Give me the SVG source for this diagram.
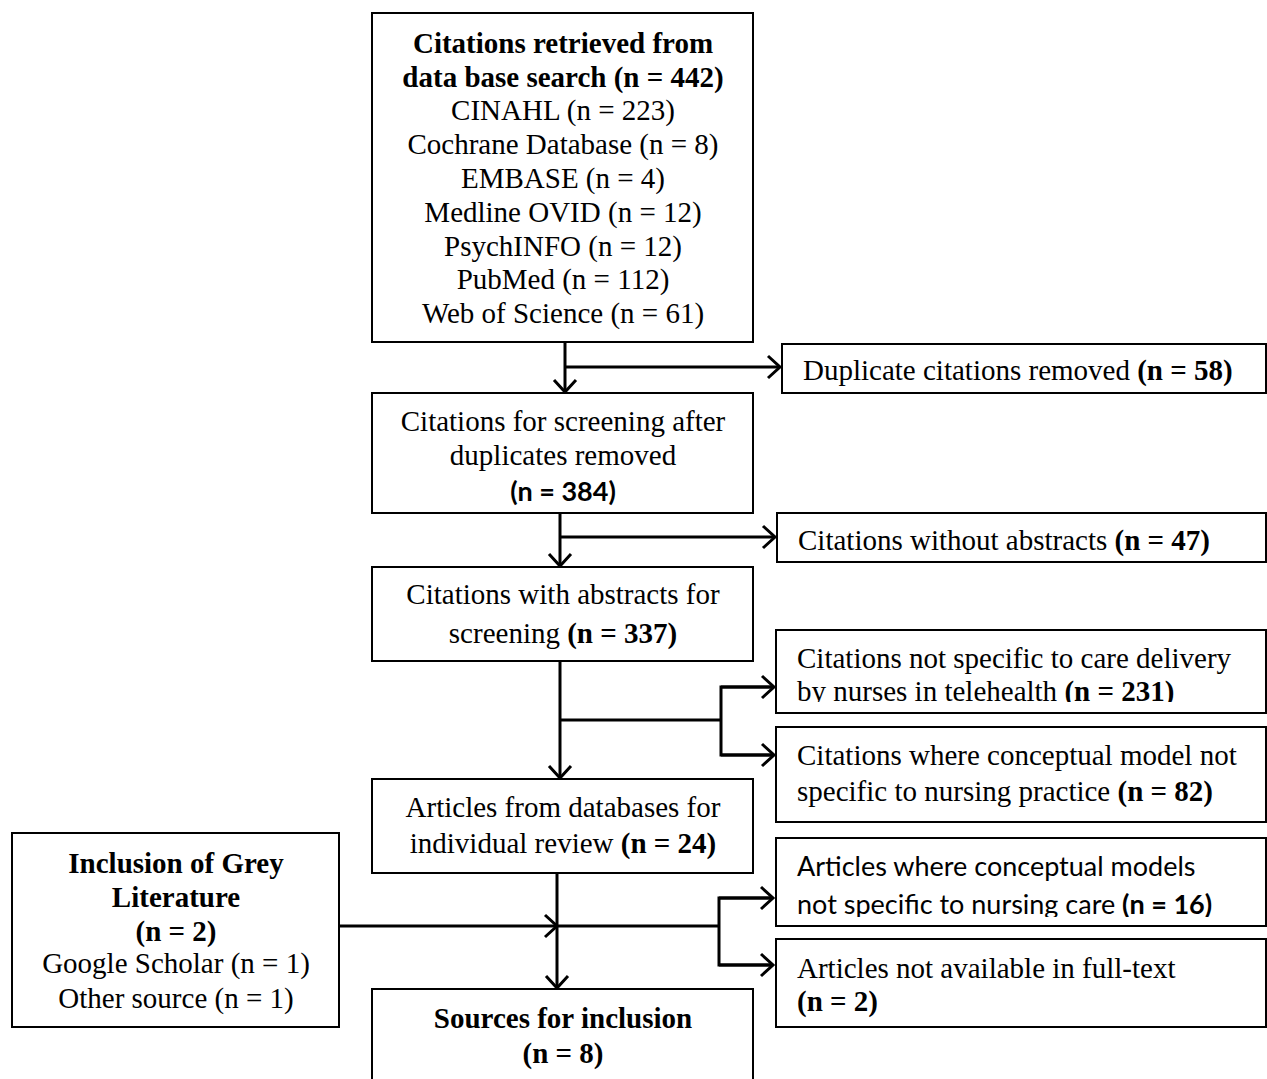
<svg xmlns="http://www.w3.org/2000/svg" width="1267" height="1079" viewBox="0 0 1267 1079">
  <style>
    .box { fill: #fff; stroke: #000; stroke-width: 2; }
    .t { font-family: "Liberation Serif", "Times New Roman", serif; font-size: 29px; fill: #000; }
    .c { text-anchor: middle; }
    .b { font-weight: bold; }
    .s { font-family: Lato, "Open Sans", sans-serif; font-size: 27px; fill: #000; }
    .ln { fill: none; stroke: #000; stroke-width: 3; }
  </style>
  <defs>
    <marker id="ah" markerUnits="userSpaceOnUse" markerWidth="20" markerHeight="30" viewBox="-16 -15 20 30" refX="0" refY="0" orient="auto" overflow="visible">
      <path d="M-12,-11 L0,0 L-12,11" fill="none" stroke="#000" stroke-width="3"/>
    </marker>
    <clipPath id="clipNurses"><rect x="776" y="630" width="491" height="72"/></clipPath>
    <clipPath id="clipModels"><rect x="776" y="838" width="491" height="79"/></clipPath>
  </defs>

  <!-- connectors -->
  <g id="connectors">
    <line class="ln" x1="565" y1="342" x2="565" y2="392" marker-end="url(#ah)"/>
    <line class="ln" x1="565" y1="367" x2="780" y2="367" marker-end="url(#ah)"/>

    <line class="ln" x1="560" y1="513" x2="560" y2="566" marker-end="url(#ah)"/>
    <line class="ln" x1="560" y1="537" x2="775" y2="537" marker-end="url(#ah)"/>

    <line class="ln" x1="560" y1="661" x2="560" y2="778" marker-end="url(#ah)"/>
    <line class="ln" x1="560" y1="720" x2="721" y2="720"/>
    <polyline class="ln" points="774,687 721,687 721,755 774,755"/>
    <line class="ln" x1="721" y1="687" x2="774" y2="687" marker-end="url(#ah)"/>
    <line class="ln" x1="721" y1="755" x2="774" y2="755" marker-end="url(#ah)"/>

    <line class="ln" x1="557" y1="873" x2="557" y2="988" marker-end="url(#ah)"/>
    <line class="ln" x1="339" y1="926" x2="557" y2="926" marker-end="url(#ah)"/>
    <line class="ln" x1="557" y1="926" x2="719" y2="926"/>
    <polyline class="ln" points="773,898 719,898 719,965 773,965"/>
    <line class="ln" x1="719" y1="898" x2="773" y2="898" marker-end="url(#ah)"/>
    <line class="ln" x1="719" y1="965" x2="773" y2="965" marker-end="url(#ah)"/>
  </g>

  <!-- database search -->
  <g id="search">
    <rect class="box" x="372" y="13" width="381" height="329"/>
    <text class="t c b" x="563" y="53">Citations retrieved from</text>
    <text class="t c b" x="563" y="87">data base search (n = 442)</text>
    <text class="t c" x="563" y="120">CINAHL (n = 223)</text>
    <text class="t c" x="563" y="154">Cochrane Database (n = 8)</text>
    <text class="t c" x="563" y="188">EMBASE (n = 4)</text>
    <text class="t c" x="563" y="222">Medline OVID (n = 12)</text>
    <text class="t c" x="563" y="256">PsychINFO (n = 12)</text>
    <text class="t c" x="563" y="289">PubMed (n = 112)</text>
    <text class="t c" x="563" y="323">Web of Science (n = 61)</text>
  </g>

  <g id="duplicates">
    <rect class="box" x="782" y="344" width="484" height="49"/>
    <text class="t" x="803" y="380">Duplicate citations removed <tspan class="b">(n = 58)</tspan></text>
  </g>

  <g id="screening">
    <rect class="box" x="372" y="393" width="381" height="120"/>
    <text class="t c" x="563" y="431">Citations for screening after</text>
    <text class="t c" x="563" y="465">duplicates removed</text>
    <text class="s c b" x="563" y="501">(n = 384)</text>
  </g>

  <g id="no-abstracts">
    <rect class="box" x="777" y="513" width="489" height="49"/>
    <text class="t" x="798" y="550">Citations without abstracts <tspan class="b">(n = 47)</tspan></text>
  </g>

  <g id="abstracts">
    <rect class="box" x="372" y="567" width="381" height="94"/>
    <text class="t c" x="563" y="604">Citations with abstracts for</text>
    <text class="t c" x="563" y="643">screening <tspan class="b">(n = 337)</tspan></text>
  </g>

  <g id="not-telehealth">
    <rect class="box" x="776" y="630" width="490" height="83"/>
    <g clip-path="url(#clipNurses)">
      <text class="t" x="797" y="668">Citations not specific to care delivery</text>
      <text class="t" x="797" y="701">by nurses in telehealth <tspan class="b">(n = 231)</tspan></text>
    </g>
  </g>

  <g id="not-nursing-practice">
    <rect class="box" x="776" y="727" width="490" height="95"/>
    <text class="t" x="797" y="765">Citations where conceptual model not</text>
    <text class="t" x="797" y="801">specific to nursing practice <tspan class="b">(n = 82)</tspan></text>
  </g>

  <g id="individual-review">
    <rect class="box" x="372" y="779" width="381" height="94"/>
    <text class="t c" x="563" y="817">Articles from databases for</text>
    <text class="t c" x="563" y="853">individual review <tspan class="b">(n = 24)</tspan></text>
  </g>

  <g id="grey-literature">
    <rect class="box" x="12" y="833" width="327" height="194"/>
    <text class="t c b" x="176" y="873">Inclusion of Grey</text>
    <text class="t c b" x="176" y="907">Literature</text>
    <text class="t c b" x="176" y="941">(n = 2)</text>
    <text class="t c" x="176" y="973">Google Scholar (n = 1)</text>
    <text class="t c" x="176" y="1008">Other source (n = 1)</text>
  </g>

  <g id="not-nursing-care">
    <rect class="box" x="776" y="838" width="490" height="88"/>
    <g clip-path="url(#clipModels)">
      <text class="s" x="797" y="876">Articles where conceptual models</text>
      <text class="s" x="797" y="914">not specific to nursing care <tspan class="b">(n = 16)</tspan></text>
    </g>
  </g>

  <g id="no-full-text">
    <rect class="box" x="776" y="939" width="490" height="88"/>
    <text class="t" x="797" y="978">Articles not available in full-text</text>
    <text class="t b" x="797" y="1011">(n = 2)</text>
  </g>

  <g id="inclusion">
    <rect class="box" x="372" y="989" width="381" height="100"/>
    <text class="t c b" x="563" y="1028">Sources for inclusion</text>
    <text class="t c b" x="563" y="1063">(n = 8)</text>
  </g>
</svg>
